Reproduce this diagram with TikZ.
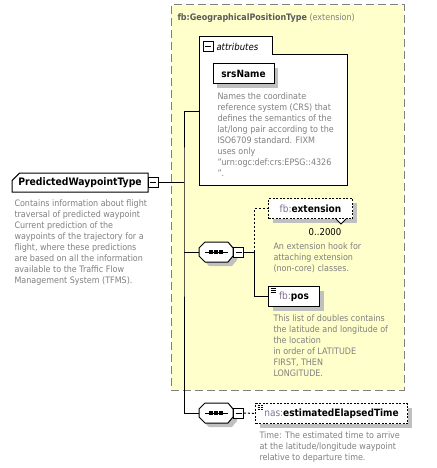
\documentclass[tikz,border=0pt]{standalone}
\usepackage{fontspec}
\setmainfont{DejaVu Sans Condensed}
\usetikzlibrary{shapes.misc,shadows}
\definecolor{extfill}{RGB}{255,255,204}
\definecolor{extline}{RGB}{128,128,128}
\definecolor{desctext}{RGB}{128,128,128}
\definecolor{nsgray}{RGB}{128,112,144}
\definecolor{shadowgray}{RGB}{192,192,192}
\newcommand{\nsprefix}[1]{{\mdseries\color{nsgray}#1}}
\begin{document}
\begin{tikzpicture}[x=1pt,y=-1pt,line width=1pt,
  extension/.style={draw=extline,fill=extfill,dash pattern=on 8pt off 4pt,
    minimum width=233pt,minimum height=385pt,inner sep=0pt},
  element/.style={draw,fill=white,inner xsep=4pt,inner ysep=0pt,minimum height=20pt,
    font=\fontsize{10}{12}\selectfont\bfseries,
    general shadow={fill=shadowgray,shadow xshift=4pt,shadow yshift=-4pt}},
  optional/.style={element,dash pattern=on 2pt off 1.5pt},
  listicon/.style={path picture={
    \foreach \dy in {2,4,6}
      \draw[line width=.8pt] ([shift={(2pt,-\dy pt)}]path picture bounding box.north west) -- ++(5pt,0);}},
  rootelem/.style={draw,fill=white,chamfered rectangle,chamfered rectangle corners=north west,
    chamfered rectangle xsep=4pt,minimum width=136pt,minimum height=19pt,inner sep=0pt,
    font=\fontsize{10.3}{12}\selectfont\bfseries},
  sequence/.style={minimum width=34pt,minimum height=20pt,inner sep=0pt},
  collapse/.style={draw,fill=white,minimum size=10pt,inner sep=0pt,
    path picture={\draw ([xshift=-3pt]path picture bounding box.center) -- ([xshift=3pt]path picture bounding box.center);}},
  description/.style={anchor=north west,inner sep=0pt,text=desctext,align=left,
    font=\fontsize{8.9}{11}\selectfont},
  connector/.style={line width=1pt},
  optconnector/.style={line width=1pt,dash pattern=on 2pt off 2pt}]
\useasboundingbox (0,0) rectangle (436,468);
\node[extension] (geo) at (287.5,197.5) {};
\node[anchor=west,inner sep=0pt,font=\fontsize{8.9}{11}\selectfont] (geotitle) at (177,18)
  {\textcolor{black!65}{\bfseries fb:GeographicalPositionType} \textcolor{desctext}{(extension)}};
\draw[fill=white] (199,37) -- (272,37) -- (272,55) -- (347,55) -- (347,185) -- (199,185) -- cycle;
\coordinate (attrs) at (199,112);
\node[collapse] (attrsminus) at (208,47) {};
\node[anchor=west,inner sep=0pt,font=\fontsize{9.5}{11}\selectfont\itshape] (attrslabel) at (216,47) {attributes};
\node[element,minimum width=61pt] (srsname) at (243.5,74) {srsName};
\node[description] (srsnamedesc) at (217,92) {Names the coordinate\\reference system (CRS) that\\defines the semantics of the\\lat/long pair according to the\\ISO6709 standard. FIXM\\uses only\\"urn:ogc:def:crs:EPSG::4326\\".};
\node[rootelem] (root) at (80,182.5) {PredictedWaypointType};
\node[collapse] (rootminus) at (153,182.5) {};
\node[description] (rootdesc) at (14,199) {Contains information about flight\\traversal of predicted waypoint\\Current prediction of the\\waypoints of the trajectory for a\\flight, where these predictions\\are based on all the information\\available to the Traffic Flow\\Management System (TFMS).};
\node[sequence] (seqA) at (216,252) {};
\node[sequence] (seqB) at (216,413) {};
\foreach \s in {seqA,seqB} {
  \fill[shadowgray] (\s) ++(4,4) +(-11,-10) -- +(12,-10) -- +(17,-4) -- +(17,4) -- +(12,10) -- +(-11,10) -- +(-17,4) -- +(-17,-4) -- cycle;
  \draw[fill=white] (\s) +(-11,-10) -- +(12,-10) -- +(17,-4) -- +(17,4) -- +(12,10) -- +(-11,10) -- +(-17,4) -- +(-17,-4) -- cycle;
  \draw (\s) +(-11,0) -- +(12,0);
  \foreach \dx in {-5,0,5}
    \fill (\s) ++(\dx,0) +(-1.6,-1.6) rectangle +(1.6,1.6);
}
\node[collapse] (seqAminus) at (238.5,252) {};
\coordinate (fork) at (254,252);
\node[optional,minimum width=84pt,anchor=west] (ext) at (268,208.5) {\nsprefix{fb:}extension};
\draw[fill=white,line width=.8pt] ([xshift=-17pt]ext.south east) -- ++(5,5) -- ++(5,-5);
\node[inner sep=0pt,font=\fontsize{9.5}{11}\selectfont] (extcard) at (325,232) {0..2000};
\node[description] (extdesc) at (273,242) {An extension hook for\\attaching extension\\(non-core) classes.};
\node[element,listicon,minimum width=51pt,anchor=west] (pos) at (268,296.5) {\nsprefix{fb:}pos};
\node[description] (posdesc) at (273,314) {This list of doubles contains\\the latitude and longitude of\\the location\\in order of LATITUDE\\FIRST, THEN\\LONGITUDE.};
\node[collapse] (seqBminus) at (238.5,413) {};
\node[optional,listicon,minimum width=152pt,anchor=west] (elapsed) at (255,413.5) {\nsprefix{nas:}estimatedElapsedTime};
\node[description] (elapseddesc) at (259,431) {Time: The estimated time to arrive\\at the latitude/longitude waypoint\\relative to departure time.};
\coordinate (trunkroot) at (184,182.5);
\coordinate (trunkA) at (184,252);
\draw[connector] (attrs) -| (trunkroot) |- (seqB.west);
\draw[connector] (rootminus.east) -- (trunkroot);
\draw[connector] (trunkA) -- (seqA.west);
\draw[connector] (seqAminus.east) -- (fork);
\draw[connector] (fork) |- (pos.west);
\draw[optconnector] (fork) |- (ext.west);
\draw[optconnector] (seqBminus.east) -- (elapsed.west);
\end{tikzpicture}
\end{document}
